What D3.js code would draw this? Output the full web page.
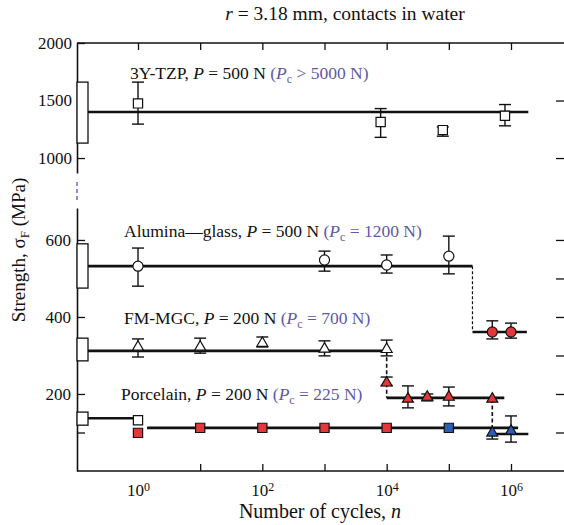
<!DOCTYPE html>
<html>
<head>
<meta charset="utf-8">
<script src="https://cdn.jsdelivr.net/npm/d3@7"></script>
<style>
    body { margin: 0; background: #fff; }
    svg text { font-family: "Liberation Serif", "DejaVu Serif", serif; fill: #111; }
</style>
</head>
<body>
<div id="chart"></div>
<script>

// ---- data ----

// initial strength (n = 0) ranges, drawn as boxes at the left edge
const materials = ["3Y-TZP", "Alumina\u2014glass", "FM-MGC", "Porcelain"]
const loads     = [500, 500, 200, 200]          // P, N
const pcRelation = [">", "=", "=", "="]
const pcValues  = [5000, 1200, 700, 225]        // Pc, N
const boxLow    = [1130, 475, 286, 119]
const boxHigh   = [1660, 590, 345, 153]

// 3Y-TZP
const tzpN  = [1, 8e3, 8e4, 8e5]
const tzpS  = [1475, 1314, 1243, 1367]
const tzpLo = [1295, 1180, 1190, 1280]
const tzpHi = [1660, 1430, 1270, 1465]

// alumina-glass, before and after radial cracking
const aluN  = [1, 1e3, 1e4, 1e5]
const aluS  = [532, 548, 535, 558]
const aluLo = [480, 519, 514, 512]
const aluHi = [579, 571, 561, 610]
const aluRedN  = [5e5, 1e6]
const aluRedS  = [361, 361]
const aluRedLo = [343, 345]
const aluRedHi = [390, 384]

// FM-MGC
const fmN  = [1, 10, 100, 1e3, 1e4]
const fmS  = [322, 322, 332, 317, 316]
const fmLo = [296, 306, 322, 299, 299]
const fmHi = [343, 345, 348, 338, 340]
const fmRedN  = [1e4, 2.2e4, 4.5e4, 1e5, 5e5]
const fmRedS  = [229, 187, 192, 192, 187]
const fmRedLo = [222, 164, 182, 169, null]
const fmRedHi = [244, 221, 200, 218, null]
const fmBlueN  = [5e5, 1e6]
const fmBlueS  = [99, 104]
const fmBlueLo = [83, 75]
const fmBlueHi = [112, 143]

// porcelain
const porN = [1]
const porS = [132]
const porRedN = [1, 10, 100, 1e3, 1e4]
const porRedS = [99, 112, 112, 112, 112]
const porBlueN = [1e5]
const porBlueS = [112]

// fitted strength levels: [n from, n to, strength]; null = start at the box
const tzpLevel    = [null, 1.9e6, 1400]
const aluLevel    = [null, 2.4e5, 532]
const aluRedLevel = [2.4e5, 1.8e6, 361]
const fmLevel     = [null, 1e4, 312]
const fmRedLevel  = [1e4, 7.8e5, 190]
const fmBlueLevel = [5e5, 1.9e6, 96]
const porLevel    = [null, 1, 137]
const porRedLevel = [1.4, 1.3e6, 112]

// drops between levels: [n, strength from, strength to]
const aluDrop    = [2.4e5, 532, 368]
const fmDrop     = [1e4, 312, 190]
const fmBlueDrop = [5e5, 187, 100]

const xTicks      = [1, 10, 100, 1e3, 1e4, 1e5, 1e6]
const xTickLabels = [1, 100, 1e4, 1e6]
const yTopTicks   = [1000, 1500, 2000]
const yBotTicks   = [100, 200, 300, 400, 500, 600]

// ---- chart ----

const WIDTH = 564
const HEIGHT = 525
const PLOT = {LEFT: 77, RIGHT: 565, TOP: 43, BOTTOM: 471}
const BOX_W = 11
const FONT = "'Liberation Serif', 'DejaVu Serif', serif"
const RED = "#e2383c"
const BLUE = "#2b5fb3"
const PC_COLOUR = "#5d59a8"

let svg = d3.select("#chart").append("svg")
    .attr("width", WIDTH)
    .attr("height", HEIGHT)
    .attr("font-family", FONT)

// log scale for cycles: 10^0 sits at x=138, 10^6 at x=511
let xScale = d3.scaleLog()
    .domain([1, 1e6])
    .range([138, 511])

// broken y axis: two linear scales
let yTop = d3.scaleLinear()
    .domain([870, 2000])
    .range([173, PLOT.TOP])
let yBot = d3.scaleLinear()
    .domain([0, 683])
    .range([PLOT.BOTTOM, 208])

const xBox = xScale.invert(PLOT.LEFT + BOX_W)

// ---- axes ----
function styleAxis(g) {
    g.attr("font-family", FONT).attr("font-size", 17)
    g.selectAll("path.domain").attr("stroke", "#111").attr("stroke-width", 1.6)
    g.selectAll(".tick line").attr("stroke", "#111").attr("stroke-width", 1.3)
    g.selectAll(".tick text").attr("fill", "#111")
}

svg.append("g")
    .attr("transform", "translate(" + PLOT.LEFT + ",0)")
    .call(d3.axisLeft(yTop).tickValues(yTopTicks).tickSizeInner(-8).tickSizeOuter(0).tickPadding(5)
        .tickFormat(d3.format("d")))
    .call(styleAxis)

svg.append("g")
    .attr("transform", "translate(" + PLOT.LEFT + ",0)")
    .call(d3.axisLeft(yBot).tickValues(yBotTicks).tickSizeInner(-8).tickSizeOuter(0).tickPadding(6)
        .tickFormat(d => d % 200 === 0 ? d : ""))
    .call(styleAxis)

// right-hand ticks (the frame itself is cut off by the crop)
svg.append("g")
    .attr("transform", "translate(" + PLOT.RIGHT + ",0)")
    .call(d3.axisRight(yTop).tickValues([1000, 1500]).tickSizeInner(-9).tickSizeOuter(0).tickFormat(""))
    .call(styleAxis)
svg.append("g")
    .attr("transform", "translate(" + PLOT.RIGHT + ",0)")
    .call(d3.axisRight(yBot).tickValues(yBotTicks).tickSizeInner(-9).tickSizeOuter(0).tickFormat(""))
    .call(styleAxis)

// axis break
svg.append("line")
    .attr("x1", PLOT.LEFT).attr("x2", PLOT.LEFT)
    .attr("y1", yTop.range()[0] + 9).attr("y2", yBot.range()[1] - 8)
    .attr("stroke", "#5a62b8").attr("stroke-width", 1.4)
    .attr("stroke-dasharray", "4,3")

// top frame with ticks
let topAxis = svg.append("g")
    .attr("transform", "translate(0," + PLOT.TOP + ")")
    .call(d3.axisTop(xScale).tickValues(xTicks).tickSizeInner(-7).tickSizeOuter(0).tickFormat(""))
    .call(styleAxis)
topAxis.select("path.domain").attr("d", "M" + PLOT.LEFT + ",0H" + PLOT.RIGHT)

// bottom axis
let bottomAxis = svg.append("g")
    .attr("transform", "translate(0," + PLOT.BOTTOM + ")")
    .call(d3.axisBottom(xScale).tickValues(xTicks).tickSizeInner(-7).tickSizeOuter(0).tickPadding(13).tickFormat(""))
    .call(styleAxis)
bottomAxis.select("path.domain").attr("d", "M" + PLOT.LEFT + ",0H" + PLOT.RIGHT)
bottomAxis.selectAll(".tick").filter(d => d === 1).select("line").remove()
bottomAxis.selectAll(".tick").filter(d => xTickLabels.includes(d)).select("text")
    .each(function(d) {
        let t = d3.select(this)
        t.text("10")
        t.append("tspan")
            .attr("dy", "-0.45em")
            .attr("font-size", 12)
            .text(Math.round(Math.log10(d)))
    })

// ---- titles ----
let title = svg.append("text")
    .attr("x", 345).attr("y", 20)
    .attr("text-anchor", "middle")
    .attr("font-size", 19.5)
title.append("tspan").attr("font-style", "italic").text("r")
title.append("tspan").text(" = 3.18 mm, contacts in water")

let xTitle = svg.append("text")
    .attr("x", 320).attr("y", 518)
    .attr("text-anchor", "middle")
    .attr("font-size", 20)
xTitle.append("tspan").text("Number of cycles, ")
xTitle.append("tspan").attr("font-style", "italic").text("n")

let yTitle = svg.append("text")
    .attr("transform", "translate(25,250) rotate(-90)")
    .attr("text-anchor", "middle")
    .attr("font-size", 19)
yTitle.append("tspan").text("Strength, \u03c3")
yTitle.append("tspan").attr("dy", 4).attr("font-size", 13).text("F")
yTitle.append("tspan").attr("dy", -4).text(" (MPa)")

// ---- initial strength boxes ----
const panels = [yTop, yBot, yBot, yBot]
materials.forEach((m, i) => {
    let y = panels[i]
    svg.append("rect")
        .attr("x", PLOT.LEFT)
        .attr("y", y(boxHigh[i]))
        .attr("width", BOX_W)
        .attr("height", y(boxLow[i]) - y(boxHigh[i]))
        .attr("fill", "#fff")
        .attr("stroke", "#111")
        .attr("stroke-width", 1.3)
})

// ---- strength levels and drops ----
function level(lv, y) {
    let n0 = lv[0] === null ? xBox : lv[0]
    svg.append("line")
        .attr("x1", xScale(n0)).attr("x2", xScale(lv[1]))
        .attr("y1", y(lv[2])).attr("y2", y(lv[2]))
        .attr("stroke", "#111")
        .attr("stroke-width", 2.6)
}
function drop(dr, y, width, dash) {
    svg.append("line")
        .attr("x1", xScale(dr[0])).attr("x2", xScale(dr[0]))
        .attr("y1", y(dr[1])).attr("y2", y(dr[2]))
        .attr("stroke", "#111")
        .attr("stroke-width", width)
        .attr("stroke-dasharray", dash)
}

level(tzpLevel, yTop)
level(aluLevel, yBot)
level(aluRedLevel, yBot)
level(fmLevel, yBot)
level(fmRedLevel, yBot)
level(porLevel, yBot)
level(porRedLevel, yBot)
level(fmBlueLevel, yBot)
drop(aluDrop, yBot, 1.2, "3,2")
drop(fmDrop, yBot, 1.6, "4,2.5")
drop(fmBlueDrop, yBot, 1.6, "4,2.5")

// ---- data points with error bars ----
function points(ns, ss, los, his, y, shape, fill) {
    const CAP = 6
    ns.forEach((n, i) => {
        let x = xScale(n)
        if (los && los[i] !== null) {
            let g = svg.append("g").attr("stroke", "#111").attr("stroke-width", 1.4)
            g.append("line").attr("x1", x).attr("x2", x).attr("y1", y(los[i])).attr("y2", y(his[i]))
            g.append("line").attr("x1", x - CAP).attr("x2", x + CAP).attr("y1", y(los[i])).attr("y2", y(los[i]))
            g.append("line").attr("x1", x - CAP).attr("x2", x + CAP).attr("y1", y(his[i])).attr("y2", y(his[i]))
        }
        let sym = shape === "square" ? d3.symbolSquare : shape === "circle" ? d3.symbolCircle : d3.symbolTriangle
        let size = shape === "square" ? 85 : shape === "circle" ? 80 : 52
        svg.append("path")
            .attr("d", d3.symbol().type(sym).size(size)())
            .attr("transform", "translate(" + x + "," + y(ss[i]) + ")")
            .attr("fill", fill)
            .attr("stroke", "#111")
            .attr("stroke-width", 1.2)
    })
}

points(tzpN, tzpS, tzpLo, tzpHi, yTop, "square", "#fff")
points(aluN, aluS, aluLo, aluHi, yBot, "circle", "#fff")
points(aluRedN, aluRedS, aluRedLo, aluRedHi, yBot, "circle", RED)
points(fmN, fmS, fmLo, fmHi, yBot, "triangle", "#fff")
points(fmRedN, fmRedS, fmRedLo, fmRedHi, yBot, "triangle", RED)
points(fmBlueN, fmBlueS, fmBlueLo, fmBlueHi, yBot, "triangle", BLUE)
points(porN, porS, null, null, yBot, "square", "#fff")
points(porRedN, porRedS, null, null, yBot, "square", RED)
points(porBlueN, porBlueS, null, null, yBot, "square", BLUE)

// ---- series labels ----
const labelPos = [[130, 79], [124, 237], [124, 324], [121, 400]]
materials.forEach((m, i) => {
    let t = svg.append("text")
        .attr("x", labelPos[i][0]).attr("y", labelPos[i][1])
        .attr("font-size", 17.5)
    t.append("tspan").text(m + ", ")
    t.append("tspan").attr("font-style", "italic").text("P")
    t.append("tspan").text(" = " + loads[i] + " N ")
    t.append("tspan").attr("fill", PC_COLOUR).text("(")
    t.append("tspan").attr("fill", PC_COLOUR).attr("font-style", "italic").text("P")
    t.append("tspan").attr("fill", PC_COLOUR).attr("dy", 4).attr("font-size", 12).text("c")
    t.append("tspan").attr("fill", PC_COLOUR).attr("dy", -4).text(" " + pcRelation[i] + " " + pcValues[i] + " N)")
})

</script>
</body>
</html>
